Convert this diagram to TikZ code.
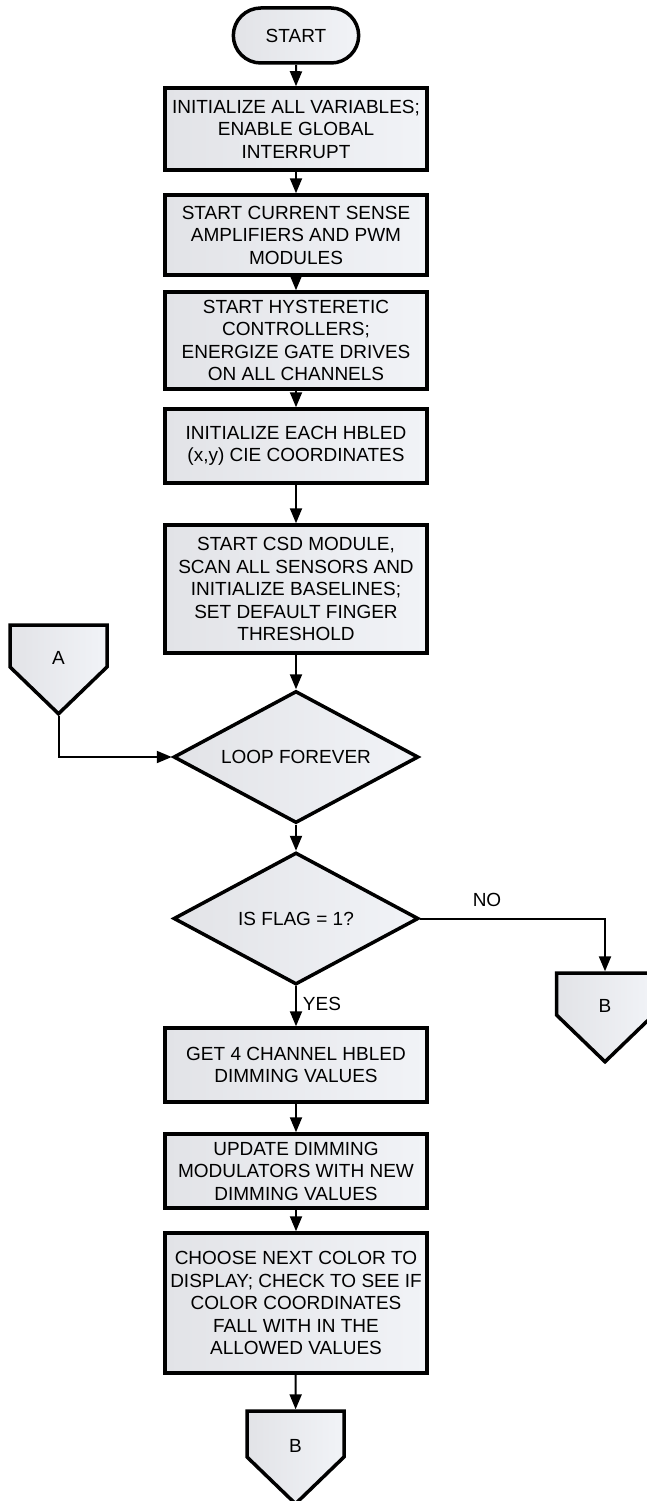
\documentclass[tikz,border=0pt]{standalone}
\usepackage{fontspec}
\setmainfont{Liberation Sans}
\usetikzlibrary{shapes.geometric,shapes.misc,shapes.symbols,arrows.meta}

\tikzset{
  shade/.style={left color={rgb,255:red,226;green,227;blue,231}, right color={rgb,255:red,241;green,243;blue,247}},
  txt/.style={font=\fontsize{19}{22.5}\selectfont},
  stepbox/.style={draw, line width=3.5pt, shade, rectangle, minimum width=262pt, align=center, txt},
  terminal/.style={draw, line width=3.5pt, shade, rounded rectangle, minimum width=132pt,
    minimum height=55pt, txt},
  decision/.style={draw, line width=3.5pt, shade, diamond, aspect=1.86, minimum width=245pt,
    minimum height=132pt, inner sep=0pt, txt},
  offpage/.style={draw, line width=3.5pt, shade, signal, signal to=south, signal pointer angle=92,
    minimum width=97pt, minimum height=48pt, inner sep=0pt, text height=36pt, text depth=0pt, txt},
  flow/.style={line width=2pt, -{Triangle[length=15pt,width=12pt]}}
}

\begin{document}
\begin{tikzpicture}[x=1pt,y=-1pt]
\useasboundingbox (0,0) rectangle (647,1501);

\node[terminal] (start) at (296,35.5) {START};
\node[stepbox, minimum height=82pt] (init) at (296,129) {INITIALIZE ALL VARIABLES;\\ENABLE GLOBAL\\INTERRUPT};
\node[stepbox, minimum height=80pt] (amps) at (296,235) {START CURRENT SENSE\\AMPLIFIERS AND PWM\\MODULES};
\node[stepbox, minimum height=97pt] (hyst) at (296,340.5) {START HYSTERETIC\\CONTROLLERS;\\ENERGIZE GATE DRIVES\\ON ALL CHANNELS};
\node[stepbox, minimum height=74pt] (cie) at (296,446) {INITIALIZE EACH HBLED\\(x,y) CIE COORDINATES};
\node[stepbox, minimum height=128pt] (csd) at (296,589) {START CSD MODULE,\\SCAN ALL SENSORS AND\\INITIALIZE BASELINES;\\SET DEFAULT FINGER\\THRESHOLD};

\node[offpage] (a) at (58.5,646) {A};
\coordinate (bend) at (58.5,757);
\node[decision] (loop) at (296,757) {LOOP FOREVER};
\node[decision] (flag) at (296,918.5) {IS FLAG = 1?};
\node[offpage] (b1) at (605,994) {B};
\coordinate (turn) at (605,918.5);

\node[stepbox, minimum height=74pt] (get) at (296,1065) {GET 4 CHANNEL HBLED\\DIMMING VALUES};
\node[stepbox, minimum height=74pt] (upd) at (296,1171) {UPDATE DIMMING\\MODULATORS WITH NEW\\DIMMING VALUES};
\node[stepbox, minimum height=140pt] (col) at (296,1303) {CHOOSE NEXT COLOR TO\\DISPLAY; CHECK TO SEE IF\\COLOR COORDINATES\\FALL WITH IN THE\\ALLOWED VALUES};
\node[offpage, minimum height=52pt] (b2) at (295.5,1434) {B};

\draw[flow] (start) -- (init);
\draw[flow] (init) -- (amps);
\draw[flow] (amps) -- (hyst);
\draw[flow] (hyst) -- (cie);
\draw[flow] (cie) -- (csd);
\draw[flow] (csd) -- (loop);
\draw[flow] (a.south) -- (bend) -- (loop.west);
\draw[flow] (loop) -- (flag);
\draw[flow] (flag.east) -- (turn) -- (b1.north);
\draw[flow] (flag) -- (get);
\draw[flow] (get) -- (upd);
\draw[flow] (upd) -- (col);
\draw[flow] (col) -- (b2);

\node[txt] (no) at (487,900) {NO};
\node[txt] (yes) at (322,1004) {YES};
\end{tikzpicture}
\end{document}
